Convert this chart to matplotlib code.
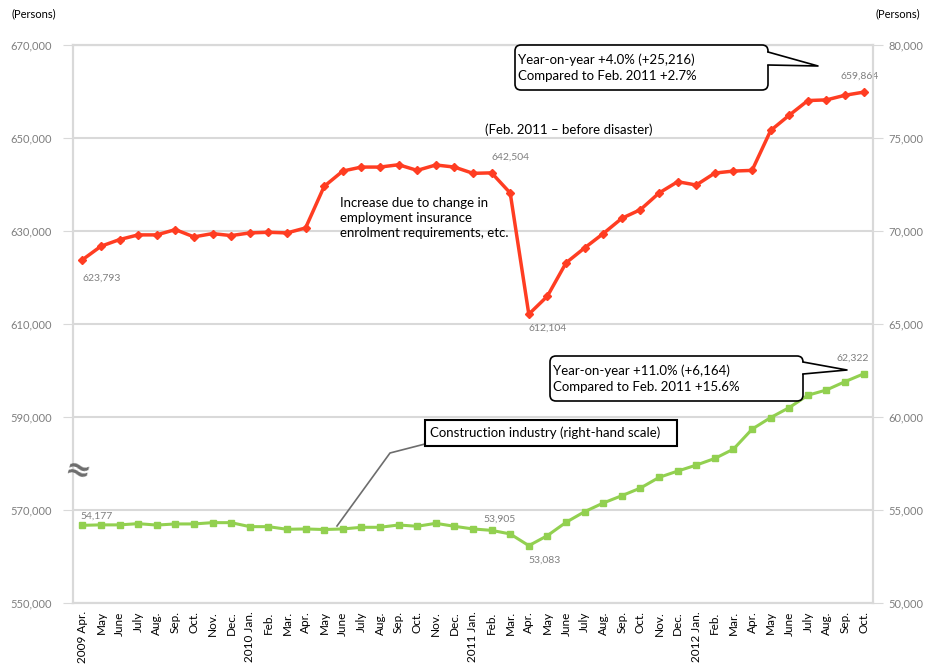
import matplotlib
matplotlib.use('Agg')
import matplotlib.pyplot as plt
import matplotlib.transforms as mtransforms
from matplotlib.patches import FancyBboxPatch, Rectangle, Polygon

plt.rcParams['font.family'] = ['Lato', 'DejaVu Sans']

# monthly data, Apr 2009 - Oct 2012
months = ['2009 Apr.', 'May', 'June', 'July', 'Aug.', 'Sep.', 'Oct.', 'Nov.', 'Dec.',
          '2010 Jan.', 'Feb.', 'Mar.', 'Apr.', 'May', 'June', 'July', 'Aug.', 'Sep.', 'Oct.', 'Nov.', 'Dec.',
          '2011 Jan.', 'Feb.', 'Mar.', 'Apr.', 'May', 'June', 'July', 'Aug.', 'Sep.', 'Oct.', 'Nov.', 'Dec.',
          '2012 Jan.', 'Feb.', 'Mar.', 'Apr.', 'May', 'June', 'July', 'Aug.', 'Sep.', 'Oct.']

all_industries = [623793, 626717, 628155, 629163, 629163, 630300, 628734, 629442, 629013,
                  629585, 629728, 629585, 630658, 639599, 642890, 643748, 643748, 644249, 643033, 644200, 643748,
                  642400, 642504, 638169, 612104, 615994, 623147, 626366, 629442, 632732, 634592, 638169, 640601,
                  639886, 642461, 642890, 643033, 651617, 654907, 658054, 658197, 659197, 659864]

construction = [54177, 54200, 54200, 54266, 54190, 54250, 54250, 54320, 54320,
                54105, 54105, 53963, 53981, 53950, 53981, 54070, 54070, 54195, 54124, 54284, 54124,
                53981, 53905, 53712, 53083, 53623, 54338, 54910, 55376, 55769, 56180, 56753, 57092,
                57414, 57772, 58273, 59345, 59971, 60508, 61170, 61454, 61903, 62322]

left_ticks = [550000, 570000, 590000, 610000, 630000, 650000, 670000]
right_ticks = [50000, 55000, 60000, 65000, 70000, 75000, 80000]

red = '#ff3d22'
green = '#92d050'
grid_c = '#d9d9d9'
label_c = '#7f7f7f'

W, H = 926, 669
fig = plt.figure(figsize=(W / 100, H / 100), dpi=100)
ax = fig.add_axes([73 / W, 1 - 603 / H, 800 / W, 558 / H])
ax2 = ax.twinx()

x = list(range(len(months)))
ax.plot(x, all_industries, color=red, lw=2.5, marker='D', ms=4.5, zorder=3)
ax2.plot(x, construction, color=green, lw=2.2, marker='s', ms=5, zorder=3)

ax.set_xlim(-0.5, len(months) - 0.5)
ax.set_ylim(550000, 670000)
ax2.set_ylim(50000, 80000)
ax.set_yticks(left_ticks)
ax2.set_yticks(right_ticks)
ax.set_yticklabels([f'{v:,}' for v in left_ticks])
ax2.set_yticklabels([f'{v:,}' for v in right_ticks])
ax.set_xticks(x)
ax.set_xticklabels(months, rotation=90, fontsize=8.5)
ax.tick_params(axis='x', length=0, pad=6)
ax.tick_params(axis='y', length=7, color=grid_c, labelsize=8, labelcolor=label_c, pad=8)
ax2.tick_params(axis='y', length=7, color=grid_c, labelsize=8, labelcolor=label_c, pad=4)
ax.yaxis.grid(True, color=grid_c, lw=1.5)
ax.set_axisbelow(True)
for a in (ax, ax2):
    for s in a.spines.values():
        s.set_color(grid_c)
        s.set_linewidth(1.5)

# data labels
lab = dict(fontsize=7.5, color=label_c)
ax.annotate(f'{all_industries[0]:,}', (0, all_industries[0]), xytext=(0, -10), textcoords='offset points', ha='left', va='top', **lab)
ax.annotate(f'{all_industries[22]:,}', (22, all_industries[22]), xytext=(0, 8), textcoords='offset points', ha='left', va='bottom', **lab)
ax.annotate(f'{all_industries[24]:,}', (24, all_industries[24]), xytext=(0, -7), textcoords='offset points', ha='left', va='top', **lab)
ax.annotate(f'{all_industries[42]:,}', (42, all_industries[42]), xytext=(-3, 8), textcoords='offset points', ha='center', va='bottom', **lab)
ax2.annotate(f'{construction[0]:,}', (0, construction[0]), xytext=(-1, 3), textcoords='offset points', ha='left', va='bottom', **lab)
ax2.annotate(f'{construction[22]:,}', (22, construction[22]), xytext=(-6, 5), textcoords='offset points', ha='left', va='bottom', **lab)
ax2.annotate(f'{construction[24]:,}', (24, construction[24]), xytext=(0, -7), textcoords='offset points', ha='left', va='top', **lab)
ax2.annotate(f'{construction[42]:,}', (42, construction[42]), xytext=(-8, 8), textcoords='offset points', ha='center', va='bottom', **lab)

# pixel coordinates (y down) for the callouts
px = mtransforms.Affine2D().scale(1 / W, -1 / H).translate(0, 1) + fig.transFigure


def callout(x0, y0, x1, y1, tip, base, lines):
    box = FancyBboxPatch((x0, y0), x1 - x0, y1 - y0, boxstyle='round,pad=0,rounding_size=6',
                         transform=px, fc='white', ec='black', lw=1.2, zorder=10)
    fig.add_artist(box)
    fig.add_artist(Polygon([(x1 - 2, base[0]), tip, (x1 - 2, base[1])], closed=True, transform=px,
                           fc='white', ec='none', zorder=11))
    fig.add_artist(plt.Line2D([x1, tip[0], x1], [base[0], tip[1], base[1]], transform=px,
                              color='black', lw=1.2, zorder=12))
    fig.text(x0 + 3, (y0 + y1) / 2, lines, transform=px, fontsize=9.5, va='center', ha='left',
             linespacing=1.35, zorder=13)


callout(515, 45, 768, 90, (818, 66), (52, 65), 'Year-on-year +4.0% (+25,216)\nCompared to Feb. 2011 +2.7%')
callout(550, 356, 803, 401, (847, 370), (362, 374), 'Year-on-year +11.0% (+6,164)\nCompared to Feb. 2011 +15.6%')

fig.text(485, 130, '(Feb. 2011 \u2013 before disaster)', transform=px, fontsize=9.5, va='center')
fig.text(340, 197, 'Increase due to change in\nemployment insurance\nenrolment requirements, etc.',
         transform=px, fontsize=9.5, va='top', linespacing=1.3)

# construction label box with leader line
fig.add_artist(plt.Line2D([425, 390, 337], [444, 453, 526], transform=px, color='#6d6d6d', lw=1.2, zorder=9))
fig.add_artist(Rectangle((425, 420), 252, 26, transform=px, fc='white', ec='black', lw=1.5, zorder=10))
fig.text(430, 433, 'Construction industry (right-hand scale)', transform=px, fontsize=9.5, va='center', zorder=11)

fig.text(12, 14, '(Persons)', transform=px, fontsize=8, va='center')
fig.text(876, 14, '(Persons)', transform=px, fontsize=8, va='center')
fig.text(77, 473, '\u2248', transform=px, fontsize=22, fontweight='bold', color='#6d6d6d',
         family='DejaVu Sans', ha='center', va='center', rotation=-15, zorder=12)

fig.savefig('out.png', dpi=100)
